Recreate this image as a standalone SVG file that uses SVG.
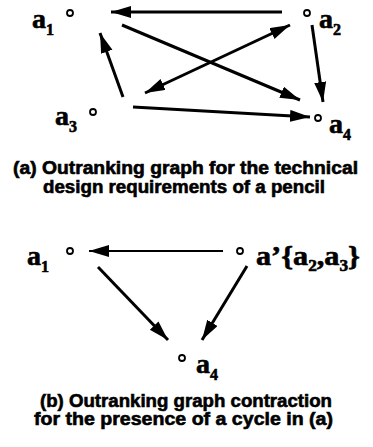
<svg xmlns="http://www.w3.org/2000/svg" width="373" height="447" viewBox="0 0 373 447">
<style>
.e{stroke:#000;stroke-width:3;fill:none;marker-end:url(#ah)}
.thin{stroke-width:2}
.n{fill:#fff;stroke:#000;stroke-width:1.8}
.lb{font-family:"Liberation Serif","Times New Roman",serif;font-weight:bold;font-size:28px;fill:#000;stroke:#000;stroke-width:0.6}
.sb{font-size:16px}
.cap{font-family:"Liberation Sans",Arial,sans-serif;font-weight:bold;font-size:18px;fill:#000;stroke:#000;stroke-width:0.6}
</style>
<defs>
<marker id="ah" markerUnits="userSpaceOnUse" markerWidth="22" markerHeight="13" refX="20" refY="6" orient="auto-start-reverse">
<path d="M0,0 L20,6 L0,12 z" fill="#000"/>
</marker>
</defs>
<rect width="373" height="447" fill="#fff"/>
<g id="connectors">
<line class="e" x1="282" y1="12" x2="111" y2="12"/>
<line class="e" x1="122" y1="25" x2="300" y2="100"/>
<line class="e" x1="312" y1="25" x2="323" y2="102"/>
<line class="e" x1="145" y1="93" x2="290" y2="25" marker-start="url(#ah)"/>
<line class="e" x1="123" y1="97" x2="100" y2="33"/>
<line class="e" x1="133" y1="107" x2="310" y2="117"/>
<line class="e thin" x1="223" y1="251" x2="89" y2="251"/>
<line class="e" x1="98" y1="267" x2="168" y2="340"/>
<line class="e" x1="247" y1="266" x2="202" y2="340"/>
</g>
<g id="a1">
<circle class="n" cx="70" cy="13" r="3"/>
<text class="lb" x="32" y="28">a<tspan class="sb" dy="7">1</tspan></text>
</g>
<g id="a2">
<circle class="n" cx="307" cy="13" r="3"/>
<text class="lb" x="319" y="28">a<tspan class="sb" dy="7">2</tspan></text>
</g>
<g id="a3">
<circle class="n" cx="93" cy="112" r="3"/>
<text class="lb" x="55" y="125">a<tspan class="sb" dy="7">3</tspan></text>
</g>
<g id="a4">
<circle class="n" cx="318" cy="118" r="3"/>
<text class="lb" x="329" y="133">a<tspan class="sb" dy="7">4</tspan></text>
</g>
<g id="caption-a">
<text class="cap" x="13" y="174" textLength="345" lengthAdjust="spacingAndGlyphs">(a) Outranking graph for the technical</text>
<text class="cap" x="43" y="193" textLength="282" lengthAdjust="spacingAndGlyphs">design requirements of a pencil</text>
</g>
<g id="b-a1">
<circle class="n" cx="70" cy="251" r="3"/>
<text class="lb" x="27" y="265">a<tspan class="sb" dy="7">1</tspan></text>
</g>
<g id="b-a23">
<circle class="n" cx="240" cy="251" r="3"/>
<text class="lb" x="256" y="265" textLength="104" lengthAdjust="spacingAndGlyphs">a’{a<tspan class="sb" dy="6">2</tspan><tspan dy="-6">,a</tspan><tspan class="sb" dy="6">3</tspan><tspan dy="-6">}</tspan></text>
</g>
<g id="b-a4">
<circle class="n" cx="182" cy="358" r="3"/>
<text class="lb" x="196" y="373">a<tspan class="sb" dy="7">4</tspan></text>
</g>
<g id="caption-b">
<text class="cap" x="40" y="407" textLength="292" lengthAdjust="spacingAndGlyphs">(b) Outranking graph contraction</text>
<text class="cap" x="34" y="425" textLength="299" lengthAdjust="spacingAndGlyphs">for the presence of a cycle in (a)</text>
</g>
</svg>
